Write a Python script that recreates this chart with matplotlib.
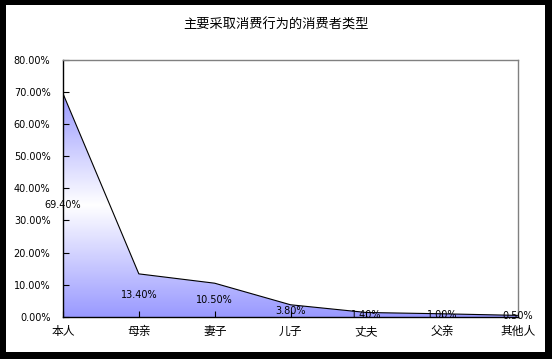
import numpy as np
import matplotlib.pyplot as plt
from matplotlib.colors import LinearSegmentedColormap
from matplotlib.patches import Rectangle

plt.rcParams['font.family'] = ['Noto Sans CJK SC', 'DejaVu Sans']

categories = ['本人', '母亲', '妻子', '儿子', '丈夫', '父亲', '其他人']
shares = [69.40, 13.40, 10.50, 3.80, 1.40, 1.00, 0.50]
yticks = [0, 10, 20, 30, 40, 50, 60, 70, 80]
title = '主要采取消费行为的消费者类型'

W, H = 552, 359
fig = plt.figure(figsize=(W / 100, H / 100), dpi=100)
fig.patch.set_facecolor('black')
fig.patches.append(Rectangle((6 / W, 1 - 352 / H), 539 / W, 347 / H,
                             transform=fig.transFigure, facecolor='white',
                             edgecolor='none', zorder=-10))

ax = fig.add_axes([63 / W, 1 - 317 / H, 455 / W, 257.5 / H])
ax.set_facecolor('white')
x = np.arange(len(categories))

# gradient fill: blue - white - blue, clipped to the area under the line
cmap = LinearSegmentedColormap.from_list('g', ['#9999ff', '#ffffff', '#9999ff'])
grad = np.linspace(0, 1, 256).reshape(-1, 1)
img = ax.imshow(grad, extent=(x[0], x[-1], 0, max(shares)), origin='lower',
                aspect='auto', cmap=cmap, zorder=1)
poly = ax.fill_between(x, shares, 0, facecolor='none', edgecolor='none')
clip = poly.get_paths()[0]
img.set_clip_path(clip, transform=ax.transData)
ax.plot(x, shares, color='black', linewidth=0.8, zorder=2)

for xi, v in zip(x, shares):
    ax.text(xi, v / 2, f'{v:.2f}%', ha='center', va='center',
            fontsize=7, family='DejaVu Sans', color='black', zorder=3)

ax.set_xlim(x[0], x[-1])
ax.set_ylim(0, 80)
ax.set_yticks(yticks)
ax.set_yticklabels([f'{t:.2f}%' for t in yticks], fontsize=7,
                   family='DejaVu Sans')
ax.set_xticks(x)
ax.set_xticklabels(categories, fontsize=8.5)
ax.tick_params(axis='y', direction='in', length=4, width=0.8, pad=9)
ax.tick_params(axis='x', direction='in', length=4, width=0.8, pad=6)

for s in ['left', 'bottom']:
    ax.spines[s].set_color('black')
    ax.spines[s].set_linewidth(1)
for s in ['top', 'right']:
    ax.spines[s].set_color('#808080')
    ax.spines[s].set_linewidth(1)

fig.text(0.5, 1 - 25 / H, title, ha='center', va='center', fontsize=9.5)

fig.savefig('out.png', dpi=100, facecolor=fig.get_facecolor())
